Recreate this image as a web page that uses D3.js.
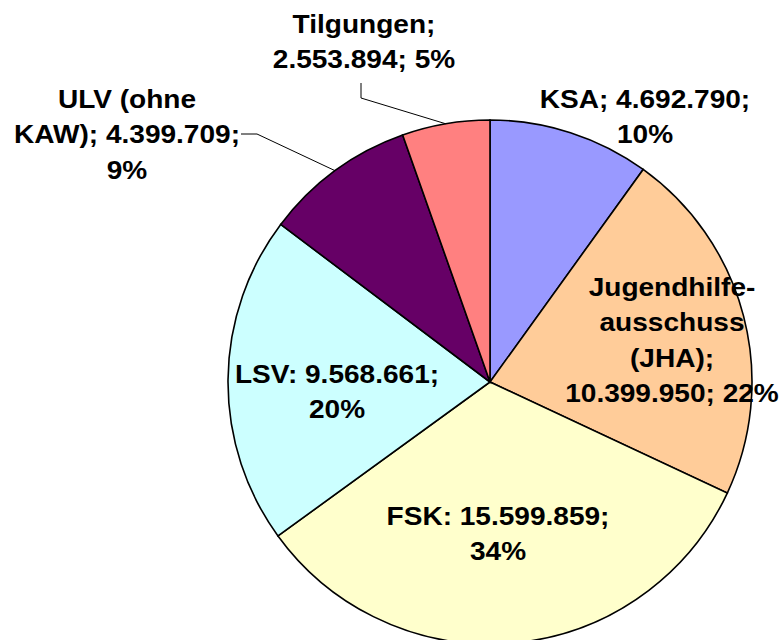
<!DOCTYPE html>
<html lang="de">
<head>
  <meta charset="UTF-8">
  <title>Kreisdiagramm</title>
  <script src="https://d3js.org/d3.v7.min.js"></script>
  <style>
    body { margin: 0; background: #fff; }
    svg { display: block; }
    .label { font-family: "Liberation Sans", Arial, sans-serif; font-weight: bold; font-size: 25.5px; fill: #000; }
    .slice { stroke: #000; stroke-width: 1.6; }
    .leader { fill: none; stroke: #000; stroke-width: 1; }
  </style>
</head>
<body>
  <svg width="783" height="640"></svg>

  <script>
    // data, clockwise from 12 o'clock
    const names = ["KSA", "JHA", "FSK", "LSV", "ULV", "Tilgungen"];
    const values = [4692790, 10399950, 15599859, 9568661, 4399709, 2553894];
    const percents = ["10%", "22%", "34%", "20%", "9%", "5%"];
    const colors = ["#9999ff", "#ffcc99", "#ffffcc", "#ccffff", "#660066", "#ff8080"];

    const fmt = d3.formatLocale({decimal: ",", thousands: ".", grouping: [3], currency: ["", " €"]}).format(",d");

    // label text, broken into lines as in the picture
    const labelLines = [
      [`KSA; ${fmt(values[0])};`, percents[0]],
      ["Jugendhilfe-", "ausschuss", "(JHA);", `${fmt(values[1])}; ${percents[1]}`],
      [`FSK: ${fmt(values[2])};`, percents[2]],
      [`LSV: ${fmt(values[3])};`, percents[3]],
      ["ULV (ohne", `KAW); ${fmt(values[4])};`, percents[4]],
      ["Tilgungen;", `${fmt(values[5])}; ${percents[5]}`]
    ];

    // label placement: centre x, first baseline y, leader start (or null)
    const labelPos = [
      {x: 645, y: 108, leader: null},
      {x: 672, y: 296, leader: null},
      {x: 498, y: 525, leader: null},
      {x: 337, y: 383, leader: null},
      {x: 127, y: 108, leader: [[241, 134], [257, 134]]},
      {x: 364, y: 33, leader: [[361, 83], [361, 98]]}
    ];

    const svg = d3.select("svg");
    const cx = 490, cy = 382, r = 262;
    const lineH = 35.5;
    const stretch = 1.1;

    const pie = d3.pie().sort(null).value(d => d)(values);
    const arc = d3.arc().innerRadius(0).outerRadius(r);
    const edge = d3.arc().innerRadius(r).outerRadius(r);

    const g = svg.append("g").attr("transform", `translate(${cx},${cy})`);

    g.selectAll(".slice")
      .data(pie)
      .enter().append("path")
        .attr("class", "slice")
        .attr("d", arc)
        .attr("fill", (d, i) => colors[i]);

    // leader lines
    pie.forEach((d, i) => {
      const lp = labelPos[i].leader;
      if (!lp) return;
      const end = edge.centroid(d);
      const pts = lp.map(p => [p[0] - cx, p[1] - cy]).concat([end]);
      g.append("path")
        .attr("class", "leader")
        .attr("d", d3.line()(pts));
    });

    // labels
    labelLines.forEach((lines, i) => {
      const t = svg.append("text")
        .attr("class", "label")
        .attr("text-anchor", "middle")
        .attr("transform", `translate(${labelPos[i].x},${labelPos[i].y}) scale(${stretch},1)`);
      lines.forEach((s, j) => {
        t.append("tspan")
          .attr("x", 0)
          .attr("y", j * lineH)
          .text(s);
      });
    });
  </script>
</body>
</html>
